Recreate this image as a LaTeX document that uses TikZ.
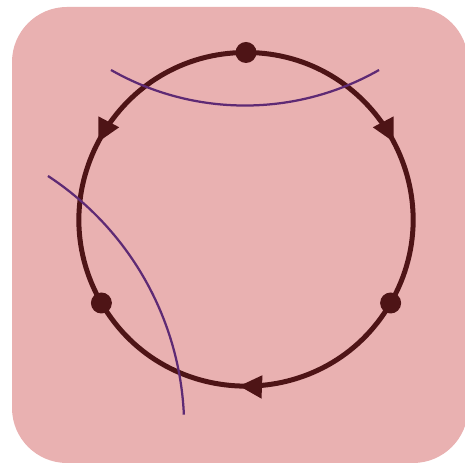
\documentclass[tikz,border=0pt]{standalone}
\usetikzlibrary{arrows.meta,decorations.markings}
\definecolor{cyclebg}{HTML}{E9B1B1}
\definecolor{cycledark}{HTML}{4E1416}
\definecolor{cutpurple}{HTML}{5E2A74}

\begin{document}
\begin{tikzpicture}[x=0.02cm, y=0.02cm,
  vertex/.style={circle, fill=cycledark, inner sep=0pt, minimum size=0.42cm},
  edge/.style={draw=cycledark, line width=0.1cm, postaction={decorate},
    decoration={markings, mark=at position 0.52 with {\arrow[cycledark]{Triangle[length=0.46cm,width=0.44cm]}}}},
  cut/.style={draw=cutpurple, line width=0.045cm},
]
\useasboundingbox (0,0) rectangle (464,465);
\fill[cyclebg, rounded corners=1.1cm] (12,2) rectangle (468,458);

% vertices on the cycle
\node[vertex] (top) at (246,412.5) {};
\node[vertex] (left) at (101.4,162) {};
\node[vertex] (right) at (390.6,162) {};

% edges
\draw[edge] (top.center) to[bend right=60, looseness=1.135] (left.center);
\draw[edge] (top.center) to[bend left=60, looseness=1.135] (right.center);
\draw[edge] (right.center) to[bend left=60, looseness=1.135] (left.center);

% cuts
\draw[cut] (111,395) arc[start angle=240.3, end angle=299.7, radius=270.5];
\draw[cut] (48,289) arc[start angle=56.7, end angle=2.6, radius=302];
\end{tikzpicture}
\end{document}
